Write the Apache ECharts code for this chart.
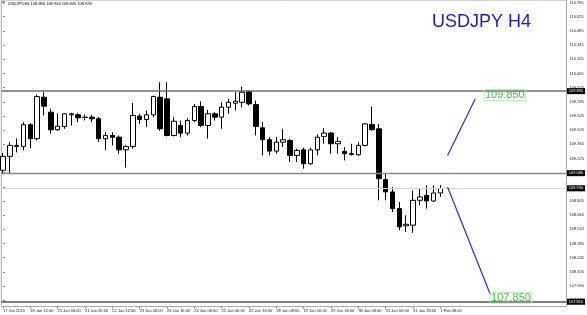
<!DOCTYPE html>
<html><head><meta charset="utf-8">
<script src="https://cdn.jsdelivr.net/npm/echarts@6/dist/echarts.min.js"></script>
<style>html,body{margin:0;padding:0;background:#fff}#c{width:587px;height:315px}</style>
</head><body><div id="c"></div>
<script>
const symbolName = 'USDJPY';
const timeframe = 'H4';
const opens  = [109.108,109.246,109.344,109.344,109.558,109.420,109.830,109.682,109.508,109.540,
                109.656,109.656,109.630,109.633,109.617,109.420,109.452,109.435,109.310,109.344,
                109.643,109.610,109.656,109.830,109.814,109.452,109.551,109.475,109.600,109.738,
                109.551,109.666,109.633,109.731,109.770,109.780,109.886,109.757,109.528,109.410,
                109.298,109.386,109.403,109.255,109.310,109.173,109.310,109.443,109.476,109.370,
                109.295,109.272,109.262,109.354,109.560,109.518,109.016,108.894,108.730,108.560,
                108.566,108.812,108.861,108.805,108.884];
const highs  = [109.280,109.386,109.423,109.583,109.573,109.856,109.879,109.715,109.670,109.672,
                109.676,109.672,109.660,109.656,109.633,109.485,109.485,109.452,109.354,109.774,
                109.666,109.699,109.846,109.977,109.977,109.633,109.600,109.623,109.764,109.790,
                109.705,109.682,109.780,109.814,109.879,109.935,109.895,109.797,109.583,109.435,
                109.435,109.518,109.420,109.321,109.331,109.331,109.462,109.524,109.485,109.435,
                109.337,109.370,109.386,109.573,109.738,109.567,109.075,108.943,108.795,108.664,
                108.910,108.927,108.960,108.960,108.964];
const lows   = [109.080,109.070,109.285,109.305,109.327,109.403,109.650,109.469,109.500,109.518,
                109.550,109.583,109.600,109.583,109.386,109.305,109.354,109.272,109.134,109.321,
                109.567,109.534,109.633,109.500,109.443,109.443,109.435,109.452,109.583,109.534,
                109.420,109.600,109.518,109.666,109.699,109.731,109.748,109.452,109.255,109.255,
                109.272,109.337,109.190,109.190,109.124,109.165,109.255,109.370,109.272,109.272,
                109.206,109.255,109.252,109.344,109.500,108.812,108.812,108.697,108.517,108.500,
                108.490,108.763,108.730,108.795,108.845];
const closes = [109.246,109.354,109.354,109.558,109.420,109.836,109.741,109.508,109.544,109.666,
                109.666,109.626,109.633,109.617,109.420,109.452,109.435,109.310,109.344,109.650,
                109.610,109.656,109.836,109.518,109.452,109.593,109.475,109.600,109.738,109.551,
                109.666,109.633,109.731,109.780,109.790,109.879,109.764,109.541,109.410,109.298,
                109.386,109.410,109.255,109.305,109.173,109.310,109.435,109.476,109.370,109.393,
                109.272,109.265,109.354,109.567,109.510,109.026,108.894,108.730,108.549,108.575,
                108.812,108.845,108.805,108.884,108.928];
const xTickLabels = ['17 Jan 2019','18 Jan 12:00','21 Jan 04:00','21 Jan 20:00','22 Jan 12:00',
                     '23 Jan 04:00','23 Jan 16:00','24 Jan 08:00','25 Jan 00:00','25 Jan 16:00',
                     '28 Jan 08:00','29 Jan 00:00','29 Jan 16:00','30 Jan 08:00','31 Jan 00:00',
                     '31 Jan 16:00','1 Feb 08:00'];
const yTickValues = [110.765,110.625,110.485,110.345,110.205,110.065,109.925,109.785,109.645,
                     109.505,109.365,109.225,109.085,108.945,108.805,108.665,108.525,108.385,
                     108.245,108.105,107.965,107.825];
const levelValues = [109.885, 109.075, 108.928, 107.815];
const targetValues = [109.850, 107.850];
const targetAnchorIdx = [70.3, 71.2];
const trendUp = [[65.05, 109.255], [69.1, 109.814]];
const trendDown = [[65.05, 108.943], [71.28, 107.886]];
const xRange = [-0.248, 82.45];
const yRange = [107.763, 110.79];

const FONT = '"Liberation Sans", Arial, sans-serif';
const chart = echarts.init(document.getElementById('c'), null, {renderer: 'canvas'});
const candleData = opens.map((o, i) => [i, o, closes[i], lows[i], highs[i]]);
const tickIdx = xTickLabels.map((_, k) => k * 4);
const last = opens.length - 1;
const levelColors = ['#6e6e6e', '#8a8a8a', '#d6d6d6', '#555555'];
const levelWidths = [1.5, 1.3, 1, 1.5];

const option = {
  animation: false,
  backgroundColor: '#fff',
  title: [
    {
      text: `${symbolName},${timeframe} ${opens[last].toFixed(3)} ${highs[last].toFixed(3)} ${lows[last].toFixed(3)} ${closes[last].toFixed(3)}`,
      left: 8, top: 1.5, padding: 0,
      textStyle: {fontSize: 4, fontWeight: 'normal', color: '#000', fontFamily: FONT}
    },
    {
      text: `${symbolName} ${timeframe}`,
      left: 432, top: 13, padding: 0,
      textStyle: {fontSize: 18, fontWeight: 'normal', color: '#1a1ad6', fontFamily: FONT}
    }
  ],
  graphic: [{
    type: 'polygon', shape: {points: [[2, 1.5], [5, 1.5], [3.5, 4]]}, style: {fill: '#333'}
  }],
  grid: {left: 0, right: 20.5, top: 0, bottom: 8.5, show: true, borderColor: '#a8a8a8', borderWidth: 1},
  xAxis: {
    type: 'value', min: xRange[0], max: xRange[1],
    axisLine: {show: false}, splitLine: {show: false},
    axisTick: {show: true, customValues: tickIdx, length: 2, lineStyle: {color: '#888'}},
    axisLabel: {
      customValues: tickIdx, formatter: v => xTickLabels[Math.round(v / 4)] || '',
      fontSize: 4, color: '#222', align: 'left', margin: 2.5, fontFamily: FONT
    }
  },
  yAxis: {
    type: 'value', position: 'right', min: yRange[0], max: yRange[1],
    axisLine: {show: false}, splitLine: {show: false},
    axisTick: {show: true, customValues: yTickValues, length: 2, lineStyle: {color: '#888'}},
    axisLabel: {
      customValues: yTickValues, formatter: v => v.toFixed(3), showMaxLabel: true, showMinLabel: true,
      fontSize: 4, color: '#222', margin: 3, fontFamily: FONT
    }
  },
  series: [{
    type: 'candlestick',
    data: candleData,
    encode: {x: 0, y: [1, 2, 3, 4]},
    barWidth: 5,
    itemStyle: {color: '#fff', color0: '#000', borderColor: '#000', borderColor0: '#000', borderWidth: 1},
    markLine: {
      silent: true, symbol: ['none', 'none'], animation: false,
      data: levelValues.map((v, k) => ({
        yAxis: v,
        lineStyle: {color: levelColors[k], width: levelWidths[k], type: 'solid'},
        label: {
          show: true, position: 'end', distance: 0.5, formatter: p => Number(p.value).toFixed(3),
          backgroundColor: '#000', color: '#fff', fontSize: 4, padding: [1, 1.8], fontFamily: FONT
        }
      })).concat([trendUp, trendDown].map(seg => ([
        {coord: seg[0], lineStyle: {color: '#2b2bd0', width: 1.2, type: 'solid'}, label: {show: false}},
        {coord: seg[1]}
      ])))
    },
    markPoint: {
      silent: true, symbol: 'circle', symbolSize: 1,
      itemStyle: {color: 'rgba(255,255,255,0)', borderWidth: 0},
      label: {show: true},
      data: targetValues.map((v, k) => ({
        coord: [targetAnchorIdx[k], v], value: v,
        label: {
          show: true, position: 'right', distance: 0, formatter: p => Number(p.value).toFixed(3),
          color: '#3cc43c', fontSize: 11, fontFamily: FONT,
          borderColor: '#b8e8b8', borderWidth: 1, padding: [0, 1]
        }
      }))
    }
  }]
};
chart.setOption(option);
</script>
</body></html>
